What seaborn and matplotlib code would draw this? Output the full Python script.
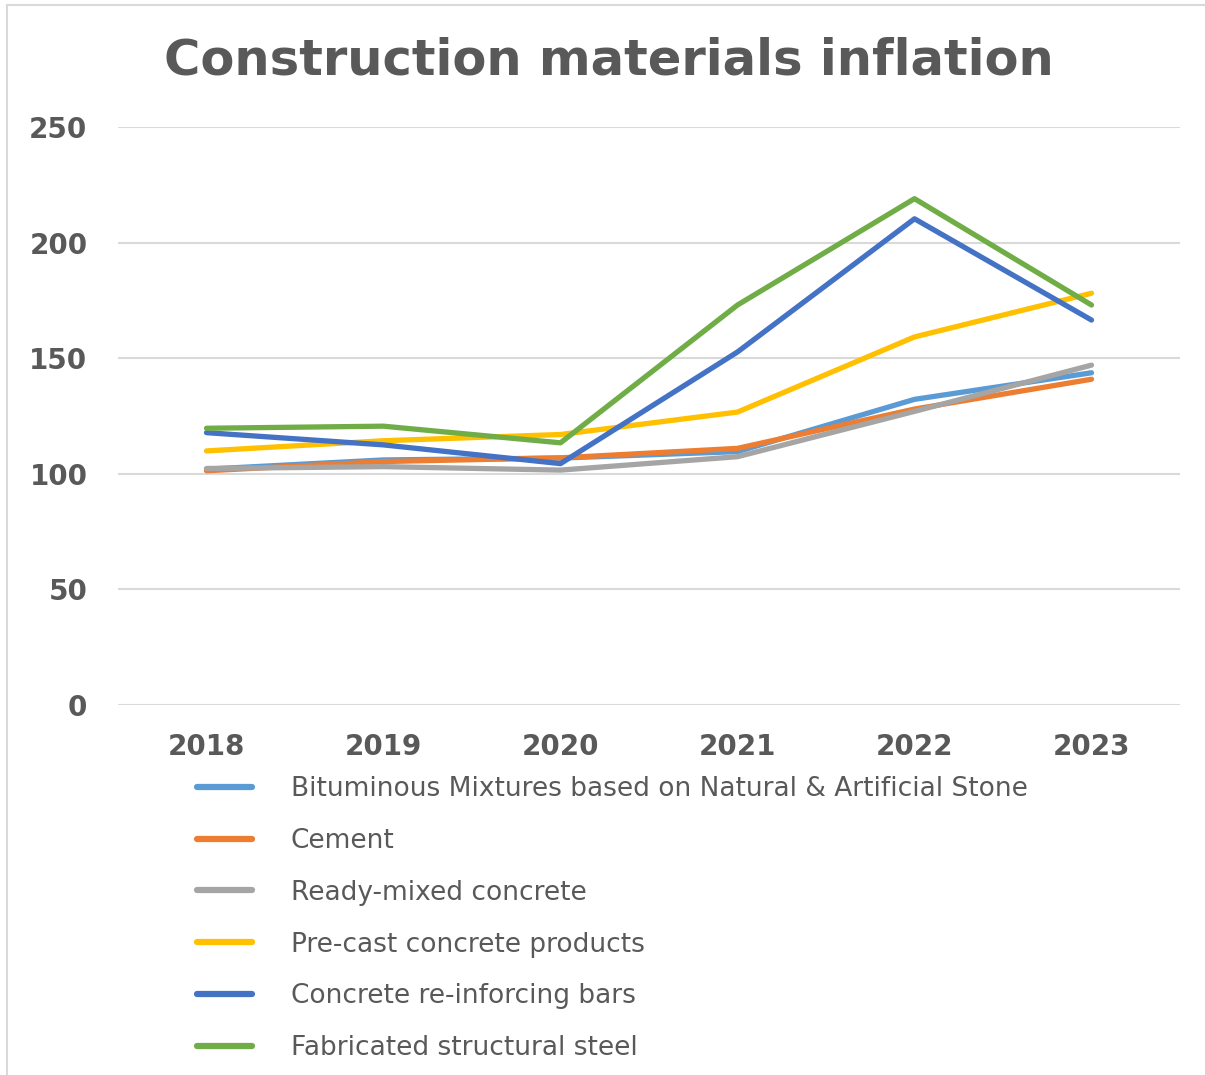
import matplotlib
matplotlib.use("Agg")
import matplotlib.pyplot as plt
import seaborn as sns
import pandas as pd

# Index values per year for each construction material
years = [2018, 2019, 2020, 2021, 2022, 2023]
bituminous = [102.0, 106.0, 106.8, 109.6, 132.2, 143.7]
cement = [101.3, 105.3, 106.9, 111.0, 128.0, 140.9]
ready_mixed = [102.3, 103.1, 101.6, 107.4, 127.0, 147.0]
pre_cast = [109.9, 114.3, 117.0, 126.7, 159.2, 178.1]
rebar = [117.8, 112.5, 104.4, 152.7, 210.3, 166.5]
steel = [119.7, 120.6, 113.4, 173.0, 219.0, 173.0]

series_names = [
    "Bituminous Mixtures based on Natural & Artificial Stone",
    "Cement",
    "Ready-mixed concrete",
    "Pre-cast concrete products",
    "Concrete re-inforcing bars",
    "Fabricated structural steel",
]
series_values = [bituminous, cement, ready_mixed, pre_cast, rebar, steel]
colors = ["#5B9BD5", "#ED7D31", "#A5A5A5", "#FFC000", "#4472C4", "#70AD47"]
y_ticks = [0, 50, 100, 150, 200, 250]

rows = []
for name, vals in zip(series_names, series_values):
    for yr, v in zip(years, vals):
        rows.append({"Year": yr, "Index": v, "Material": name})
df = pd.DataFrame(rows)

sns.set_theme(style="white")
plt.rcParams["font.family"] = ["DejaVu Sans"]

text_color = "#595959"
grid_color = "#D9D9D9"

fig = plt.figure(figsize=(12.05, 10.75), dpi=100)
ax = fig.add_axes([118 / 1205, 1 - 705 / 1075, (1180 - 118) / 1205, (705 - 127) / 1075])

sns.lineplot(
    data=df, x="Year", y="Index", hue="Material",
    hue_order=series_names, palette=colors,
    linewidth=3.8, ax=ax, legend=True, sort=False,
)

ax.set_xlim(2017.5, 2023.5)
ax.set_ylim(0, 250)
ax.set_yticks(y_ticks)
ax.set_xticks(years)
ax.set_xticklabels([str(y) for y in years])
ax.set_xlabel("")
ax.set_ylabel("")
for s in ax.spines.values():
    s.set_visible(False)
ax.yaxis.grid(True, color=grid_color, linewidth=1.5)
ax.set_axisbelow(True)
ax.tick_params(axis="both", length=0, labelsize=20, colors=text_color)
ax.tick_params(axis="y", pad=22)
ax.tick_params(axis="x", pad=20)
for lab in ax.get_xticklabels() + ax.get_yticklabels():
    lab.set_fontweight("bold")

handles, labels = ax.get_legend_handles_labels()
ax.get_legend().remove()
leg = fig.legend(
    handles, labels, loc="upper left",
    bbox_to_anchor=(197 / 1205, 1 - 776 / 1075),
    frameon=False, fontsize=19, handlelength=2.08, handletextpad=1.48,
    labelspacing=0.98, borderaxespad=0, borderpad=0,
)
for t in leg.get_texts():
    t.set_color(text_color)
for h in leg.legend_handles:
    h.set_linewidth(4.5)
    h.set_solid_capstyle("round")

fig.text(0.505, 1 - 60 / 1075, "Construction materials inflation",
         ha="center", va="center", fontsize=35.7, fontweight="bold", color=text_color)

# light frame around the figure
fig.add_artist(plt.Line2D([7 / 1205, 7 / 1205], [0, 1 - 5 / 1075],
                          transform=fig.transFigure, color=grid_color, linewidth=1.5))
fig.add_artist(plt.Line2D([7 / 1205, 1], [1 - 5 / 1075, 1 - 5 / 1075],
                          transform=fig.transFigure, color=grid_color, linewidth=1.5))

fig.savefig("out.png", dpi=100)
